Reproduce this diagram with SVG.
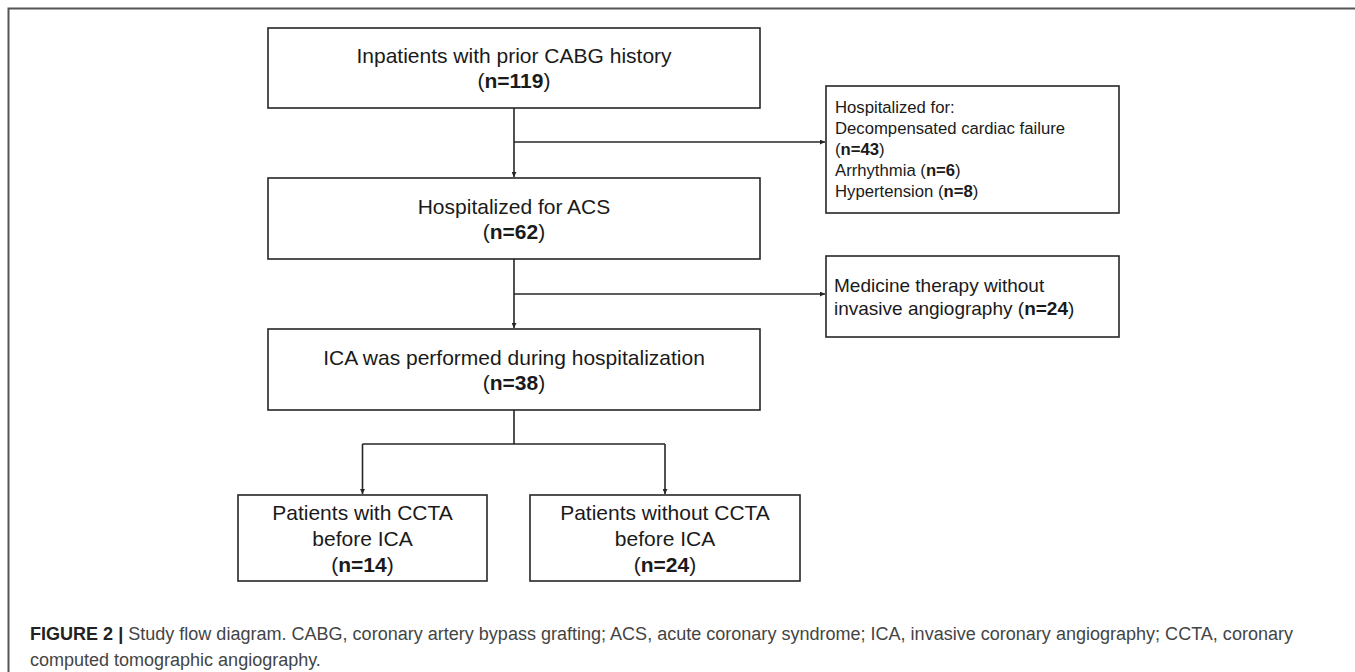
<svg xmlns="http://www.w3.org/2000/svg" width="1355" height="672" viewBox="0 0 1355 672">
<defs>
<style>
.box{fill:#fff;stroke:#262626;stroke-width:1.6}
.t{font-family:"Liberation Sans",Arial,sans-serif;fill:#1a1a1a}
.c{text-anchor:middle;font-size:21px}
.b{font-weight:bold}
.ln{fill:none;stroke:#262626;stroke-width:1.6}
.cap{font-family:"Liberation Sans",Arial,sans-serif;font-size:18px;fill:#444}
</style>
<marker id="ah" viewBox="0 0 10 10" refX="10" refY="5" markerWidth="5" markerHeight="5" orient="auto" markerUnits="userSpaceOnUse">
<path d="M0,0 L10,5 L0,10 z" fill="#262626"/>
</marker>
</defs>
<rect width="1355" height="672" fill="#fff"/>
<path d="M8.5,680 V8.5 H1355" fill="none" stroke="#555" stroke-width="2"/>

<g id="connectors">
<line class="ln" x1="514" y1="108" x2="514" y2="177" marker-end="url(#ah)"/>
<line class="ln" x1="514" y1="142" x2="825" y2="142" marker-end="url(#ah)"/>
<line class="ln" x1="514" y1="259" x2="514" y2="328" marker-end="url(#ah)"/>
<line class="ln" x1="514" y1="294" x2="825" y2="294" marker-end="url(#ah)"/>
<path class="ln" d="M514,410 V444 M362.5,444 H665"/>
<line class="ln" x1="362.5" y1="444" x2="362.5" y2="494" marker-end="url(#ah)"/>
<line class="ln" x1="665" y1="444" x2="665" y2="494" marker-end="url(#ah)"/>
</g>

<g id="n1">
<rect class="box" x="268" y="28" width="492" height="80"/>
<text class="t c" x="514" y="63">Inpatients with prior CABG history</text>
<text class="t c" x="514" y="88">(<tspan class="b">n=119</tspan>)</text>
</g>

<g id="n2">
<rect class="box" x="826" y="86" width="293" height="127"/>
<text class="t" font-size="16.7" x="835" y="113">Hospitalized for:</text>
<text class="t" font-size="16.7" x="835" y="134">Decompensated cardiac failure</text>
<text class="t" font-size="16.7" x="835" y="155">(<tspan class="b">n=43</tspan>)</text>
<text class="t" font-size="16.7" x="835" y="176">Arrhythmia (<tspan class="b">n=6</tspan>)</text>
<text class="t" font-size="16.7" x="835" y="197">Hypertension (<tspan class="b">n=8</tspan>)</text>
</g>

<g id="n3">
<rect class="box" x="268" y="178" width="492" height="81"/>
<text class="t c" x="514" y="213.5">Hospitalized for ACS</text>
<text class="t c" x="514" y="238.5">(<tspan class="b">n=62</tspan>)</text>
</g>

<g id="n4">
<rect class="box" x="826" y="256" width="293" height="81"/>
<text class="t" font-size="19" x="834" y="292">Medicine therapy without</text>
<text class="t" font-size="19" x="834" y="315">invasive angiography (<tspan class="b">n=24</tspan>)</text>
</g>

<g id="n5">
<rect class="box" x="268" y="329" width="492" height="81"/>
<text class="t c" x="514" y="364.5">ICA was performed during hospitalization</text>
<text class="t c" x="514" y="389.5">(<tspan class="b">n=38</tspan>)</text>
</g>

<g id="n6">
<rect class="box" x="238" y="495" width="249" height="86"/>
<text class="t c" x="362.5" y="520">Patients with CCTA</text>
<text class="t c" x="362.5" y="546">before ICA</text>
<text class="t c" x="362.5" y="572">(<tspan class="b">n=14</tspan>)</text>
</g>

<g id="n7">
<rect class="box" x="530" y="495" width="270" height="86"/>
<text class="t c" x="665" y="520">Patients without CCTA</text>
<text class="t c" x="665" y="546">before ICA</text>
<text class="t c" x="665" y="572">(<tspan class="b">n=24</tspan>)</text>
</g>

<g id="caption">
<text class="cap" x="30" y="640" textLength="1263" lengthAdjust="spacingAndGlyphs"><tspan font-weight="bold" fill="#222">FIGURE 2 |</tspan> Study flow diagram. CABG, coronary artery bypass grafting; ACS, acute coronary syndrome; ICA, invasive coronary angiography; CCTA, coronary</text>
<text class="cap" x="30" y="666">computed tomographic angiography.</text>
</g>
</svg>
